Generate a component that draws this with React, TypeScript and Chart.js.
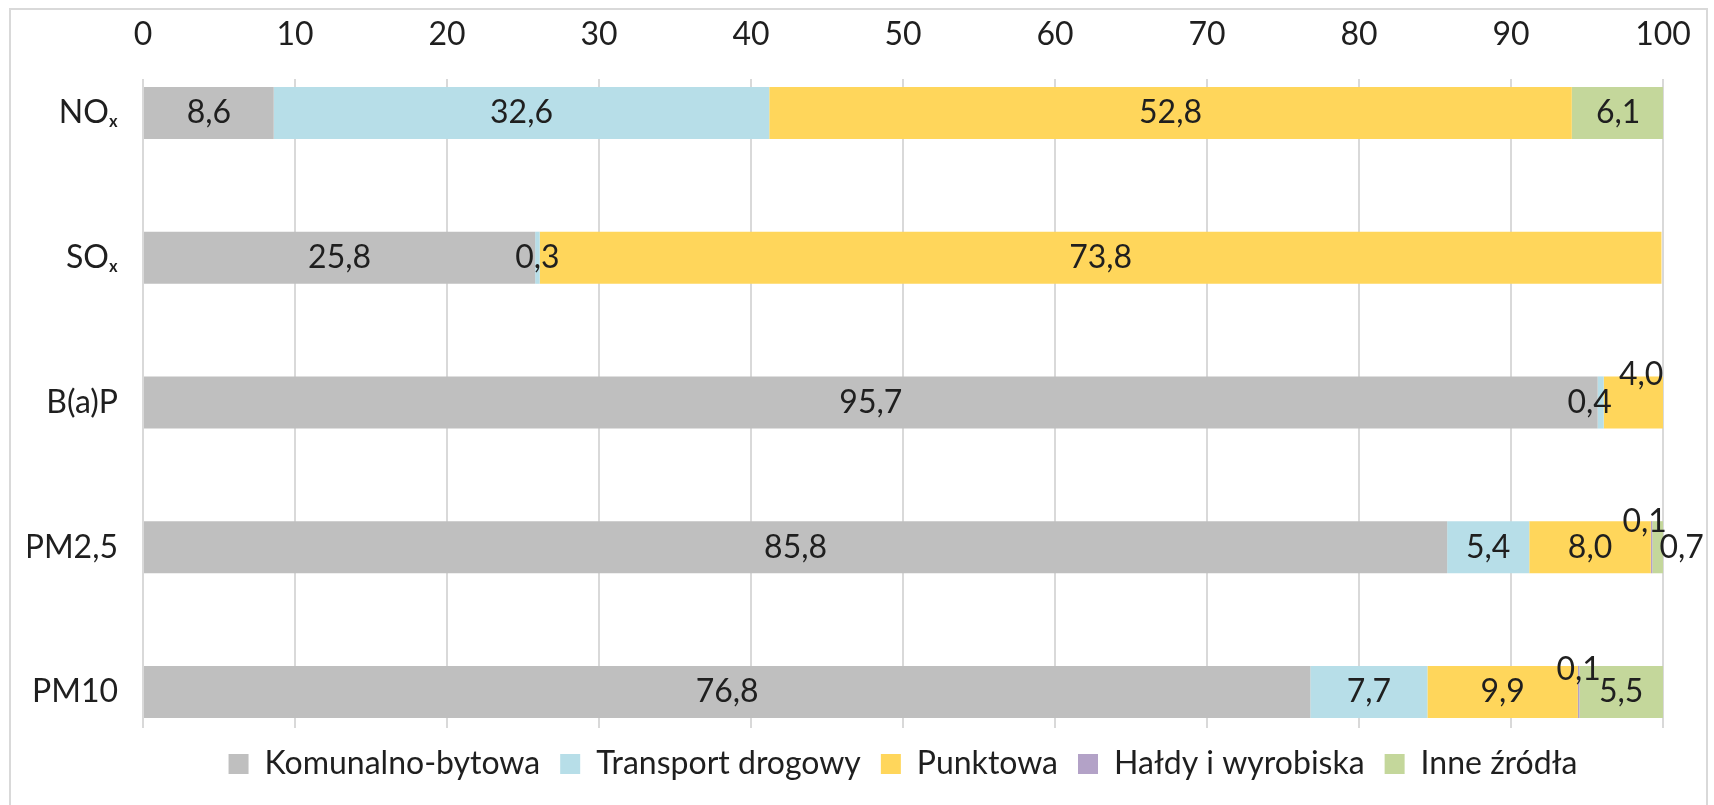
import React, { useEffect, useRef } from 'react';
import { Chart, registerables } from 'chart.js';

Chart.register(...registerables);

// ---- data ----
const categories = ['NOₓ', 'SOₓ', 'B(a)P', 'PM2,5', 'PM10'];
const seriesNames = ['Komunalno-bytowa', 'Transport drogowy', 'Punktowa', 'Hałdy i wyrobiska', 'Inne źródła'];
const komunalnoBytowa = [8.6, 25.8, 95.7, 85.8, 76.8];
const transportDrogowy = [32.6, 0.3, 0.4, 5.4, 7.7];
const punktowa = [52.8, 73.8, 4.0, 8.0, 9.9];
const haldyIWyrobiska = [0, 0, 0, 0.1, 0.1];
const inneZrodla = [6.1, 0, 0, 0.7, 5.5];
const xTickMin = 0;
const xTickMax = 100;
const xTickStep = 10;

// ---- styles ----
const seriesColors = ['#BFBFBF', '#B7DEE8', '#FFD65B', '#B3A2C7', '#C4D79B'];
const FONT = 'Lato, "Liberation Sans", sans-serif';
const FONT_SIZE = 32;
const TEXT_COLOR = '#1f1f1f';
const GRID_COLOR = '#D9D9D9';

// manual nudges of crowded labels (px), keyed "dataset-index"
const labelNudges: Record<string, { dx: number; dy: number }> = {
  '1-2': { dx: -11, dy: 0 },
  '2-2': { dx: 7, dy: -28 },
  '3-3': { dx: -7, dy: -26 },
  '4-3': { dx: 24, dy: 0 },
  '3-4': { dx: 0, dy: -22 },
};

const fmt = (v: number) => v.toFixed(1).replace('.', ',');

const segmentLabels = {
  id: 'segmentLabels',
  afterDatasetsDraw(chart: any) {
    const ctx = chart.ctx;
    ctx.save();
    ctx.font = `${FONT_SIZE}px ${FONT}`;
    ctx.fillStyle = TEXT_COLOR;
    ctx.textAlign = 'center';
    ctx.textBaseline = 'middle';
    chart.data.datasets.forEach((ds: any, di: number) => {
      const meta = chart.getDatasetMeta(di);
      meta.data.forEach((bar: any, i: number) => {
        const v = ds.data[i].x;
        if (!v) return;
        const { x, y, base } = bar.getProps(['x', 'y', 'base'], true);
        const n = labelNudges[`${di}-${i}`] || { dx: 0, dy: 0 };
        ctx.fillText(fmt(v), (x + base) / 2 + n.dx, y + n.dy);
      });
    });
    ctx.restore();
  },
};

export default function App() {
  const ref = useRef<HTMLCanvasElement>(null);

  useEffect(() => {
    if (!ref.current) return;
    const series = [komunalnoBytowa, transportDrogowy, punktowa, haldyIWyrobiska, inneZrodla];
    const datasets = series.map((vals, si) => ({
      label: seriesNames[si],
      data: vals.map((v, i) => ({ x: v, y: i })),
      backgroundColor: seriesColors[si],
      borderWidth: 0,
      categoryPercentage: 1,
      barPercentage: 0.36,
    }));

    const chart = new Chart(ref.current, {
      type: 'bar',
      data: { datasets },
      plugins: [segmentLabels],
      options: {
        indexAxis: 'y',
        animation: false,
        responsive: false,
        devicePixelRatio: 1,
        font: { family: FONT, size: FONT_SIZE },
        color: TEXT_COLOR,
        layout: { padding: { top: 15, left: 28, right: 51, bottom: 15 } },
        plugins: {
          tooltip: { enabled: false },
          legend: {
            position: 'bottom',
            fullSize: false,
            labels: {
              boxWidth: 20,
              boxHeight: 20,
              padding: 20,
              color: TEXT_COLOR,
              font: { family: FONT, size: FONT_SIZE },
            },
          },
        },
        scales: {
          x: {
            type: 'linear',
            position: 'top',
            stacked: true,
            min: xTickMin,
            max: xTickMax,
            ticks: {
              stepSize: xTickStep,
              padding: 25,
              color: TEXT_COLOR,
              font: { family: FONT, size: FONT_SIZE },
            },
            grid: { color: GRID_COLOR, lineWidth: 2, drawTicks: false },
            border: { display: false },
            afterFit: (s: any) => {
              s.height = 64;
              s.paddingLeft = 0;
              s.paddingRight = 0;
            },
          },
          y: {
            type: 'linear',
            reverse: true,
            stacked: true,
            offset: false,
            bounds: 'data',
            min: -0.235,
            max: categories.length - 1 + 0.249,
            afterBuildTicks: (s: any) => {
              s.ticks = categories.map((_, i) => ({ value: i }));
            },
            ticks: {
              padding: 25,
              color: TEXT_COLOR,
              font: { family: FONT, size: FONT_SIZE },
              callback: (v: any) => categories[v] ?? '',
            },
            grid: { display: false, drawTicks: false, offset: false },
            border: { display: false },
            afterFit: (s: any) => {
              s.width = 115;
              s.paddingTop = 0;
              s.paddingBottom = 0;
            },
          },
        },
      } as any,
    });
    return () => chart.destroy();
  }, []);

  return (
    <div>
      <div
        style={{
          position: 'fixed',
          left: 9,
          top: 8,
          width: 1699,
          height: 830,
          border: '2px solid #D9D9D9',
          boxSizing: 'border-box',
          background: '#fff',
        }}
      />
      <canvas
        ref={ref}
        width={1714}
        height={805}
        style={{ position: 'fixed', left: 0, top: 0, display: 'block' }}
      />
    </div>
  );
}
